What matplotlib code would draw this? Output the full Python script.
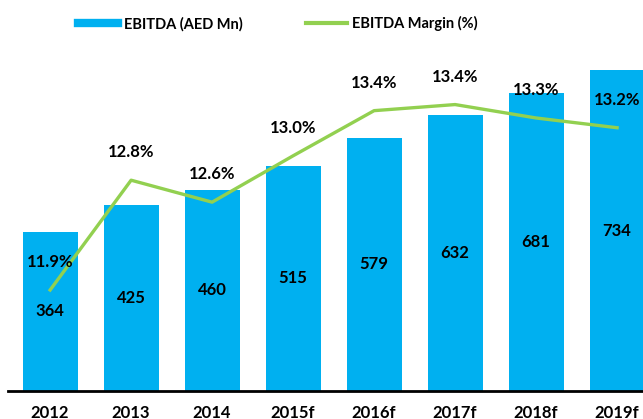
import matplotlib.pyplot as plt
from matplotlib.lines import Line2D
import numpy as np

plt.rcParams['font.family'] = ['Lato', 'DejaVu Sans']

# datos
anios = ['2012', '2013', '2014', '2015f', '2016f', '2017f', '2018f', '2019f']
ebitda = [364, 425, 460, 515, 579, 632, 681, 734]
margen = [11.9, 12.8, 12.62, 13.0, 13.37, 13.42, 13.31, 13.23]
margen_txt = ['11.9%', '12.8%', '12.6%', '13.0%', '13.4%', '13.4%', '13.3%', '13.2%']

azul = '#00B0F0'
verde = '#92D050'

fig = plt.figure(figsize=(6.43, 4.19), dpi=100)
ax = fig.add_axes([8 / 643, 28 / 419, 635 / 643, 331 / 419])
x = np.arange(len(anios))

ax.bar(x, ebitda, width=0.68, color=azul, zorder=1)
ax.set_xlim(-0.52, 7.32)
ax.set_ylim(0, 331 / 0.437)

# etiquetas dentro de las barras
for xi, v in zip(x, ebitda):
    ax.text(xi, v / 2, str(v), ha='center', va='center', fontsize=12,
            fontweight='bold', color='black', zorder=5)

ax.set_yticks([])
for s in ['top', 'right', 'left']:
    ax.spines[s].set_visible(False)
ax.spines['bottom'].set_linewidth(2)
ax.set_xticks(x)
ax.set_xticklabels(anios, fontsize=12, fontweight='bold')
ax.tick_params(axis='x', length=0, pad=10)

# eje secundario para el margen
ax2 = ax.twinx()
ax2.plot(x, margen, color=verde, linewidth=2.4, zorder=3)
ax2.set_ylim(11.9 - 101 / 122, 11.9 + 230 / 122)
ax2.set_yticks([])
for s in ['top', 'right', 'left', 'bottom']:
    ax2.spines[s].set_visible(False)

for xi, m, t in zip(x, margen, margen_txt):
    ax2.annotate(t, (xi, m), xytext=(0, 20), textcoords='offset points',
                 ha='center', va='center', fontsize=12, fontweight='bold',
                 color='black', zorder=6)

handles = [Line2D([], [], color=azul, linewidth=6),
           Line2D([], [], color=verde, linewidth=3)]
fig.legend(handles, ['EBITDA (AED Mn)', 'EBITDA Margin (%)'], ncol=2,
           loc='center', bbox_to_anchor=(0.432, 0.943), frameon=False,
           prop={'size': 10.5, 'weight': 'bold'}, handlelength=2.8,
           columnspacing=4.4, handletextpad=0.35)

fig.savefig('out.png', dpi=100)
